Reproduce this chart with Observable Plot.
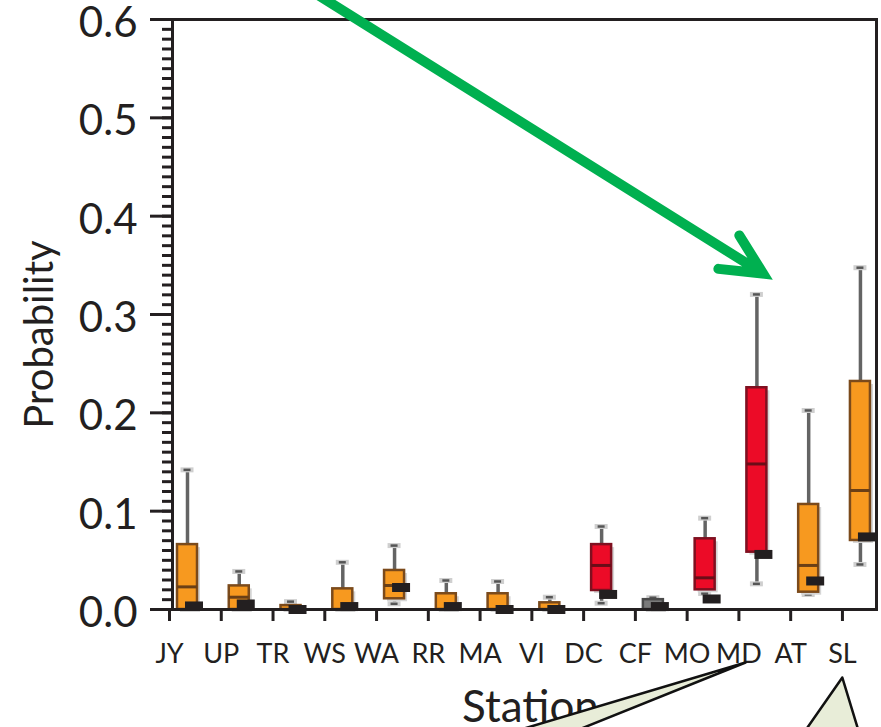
<!DOCTYPE html>
<html>
<head>
<meta charset="utf-8">
<script src="https://cdn.jsdelivr.net/npm/d3@7"></script>
<script src="https://cdn.jsdelivr.net/npm/@observablehq/plot@0.6"></script>
<style>
  html, body { margin: 0; padding: 0; background: #fff; }
  #chart svg { display: block; }
</style>
</head>
<body>
<div id="chart"></div>
<script>
// ---------- data ----------
const stations   = ["JY","UP","TR","WS","WA","RR","MA","VI","DC","CF","MO","MD","AT","SL"];
const boxKind    = ["o","o","o","o","o","o","o","o","r","g","r","r","o","o"]; // o = orange, r = red, g = grey
const whiskerLow = [0,     0,      0,     0,     0.0058, 0,      0,      0,      0.0064, 0,     0.0163, 0.0261, 0.0153, 0.0458];
const q1         = [0,     0,      0,     0,     0.0109, 0,      0,      0,      0.0193, 0,     0.0200, 0.0583, 0.0176, 0.0702];
const median     = [0.023, 0.0125, 0,     0,     0.0244, 0,      0,      0,      0.0448, 0,     0.0322, 0.1480, 0.0448, 0.1210];
const q3         = [0.066, 0.024,  0.004, 0.021, 0.0397, 0.016,  0.016,  0.0068, 0.0660, 0.010, 0.0719, 0.2255, 0.1068, 0.2319];
const whiskerHigh= [0.142, 0.0387, 0.008, 0.048, 0.065,  0.0295, 0.0285, 0.0125, 0.0844, 0.012, 0.0929, 0.3204, 0.2024, 0.3476];
const observed   = [0.0036,0.0056, 0,     0.003, 0.0224, 0.003,  0,      0,      0.0153, 0.003, 0.0107, 0.056,  0.029,  0.0738];

const yMajorTicks = [0, 0.1, 0.2, 0.3, 0.4, 0.5, 0.6];
const yMinorTicks = d3.range(0, 61).map(k => k / 100);
const xTickIndex  = stations.map((_, i) => i);
const xTitle = "Station";
const yTitle = "Probability";

// annotation geometry (data coordinates)
const arrowLine = [{x1: 2.82, y1: 0.6246, x2: 11.41, y2: 0.3416}];
const calloutX  = [11.07, 6.01, 7.32, 12.94, 12.09, 13.31];
const calloutY  = [-0.0539, -0.1333, -0.1333, -0.0692, -0.1333, -0.1333];
const calloutId = ["MD", "MD", "MD", "SL", "SL", "SL"];

// ---------- layout ----------
const W = 881, H = 727, mL = 172, mR = 5, mT = 19, mB = 118;
const xMax = 13.6;
const px = xMax / (W - mL - mR); // data units per pixel along x

const fillOf   = {o: "#F7991F", r: "#EC0B27", g: "#7a7a7a"};
const strokeOf = {o: "#7B4A1B", r: "#7f1020", g: "#4a4a4a"};
const medOf    = {o: "#6a3f16", r: "#6a0d18", g: "#444"};

const rows = stations.map((s, i) => ({
  s, i, kind: boxKind[i],
  lo: whiskerLow[i], q1: q1[i], med: median[i], q3: q3[i], hi: whiskerHigh[i], obs: observed[i],
  bx1: i + 5 * px, bx2: i + 25 * px, cx: i + 15 * px,
  mx1: i + 13 * px, mx2: i + 31 * px
}));
const callouts = calloutX.map((x, k) => ({x, y: calloutY[k], id: calloutId[k]}));

const ink = "#231f20";

const chart = Plot.plot({
  width: W, height: H,
  marginLeft: mL, marginRight: mR, marginTop: mT, marginBottom: mB,
  style: {fontFamily: "Lato, 'Open Sans', sans-serif", color: ink, background: "#fff", overflow: "visible"},
  x: {type: "linear", domain: [0, xMax], axis: null},
  y: {domain: [0, 0.6], axis: null},
  marks: [
    // axes
    Plot.axisY({ticks: yMinorTicks, tickSize: 10, tickFormat: () => "", strokeWidth: 3, stroke: ink, label: null}),
    Plot.axisY({ticks: yMajorTicks, tickSize: 22, tickFormat: () => "", strokeWidth: 3, stroke: ink, label: null}),
    Plot.axisY({ticks: yMajorTicks, tickSize: 0, tickPadding: 35, tickFormat: d3.format(".1f"),
                fill: ink, fontSize: 42, dy: 4, label: null}),
    Plot.axisX({ticks: xTickIndex, tickSize: 12, tickPadding: 22, tickFormat: i => stations[i],
                strokeWidth: 3, stroke: ink, fill: ink, fontSize: 27, dx: -3, label: null}),
    // whiskers
    Plot.ruleX(rows, {x: "cx", y1: "q3", y2: "hi", stroke: "#646464", strokeWidth: 3.5}),
    Plot.ruleX(rows, {x: "cx", y1: "lo", y2: "q1", stroke: "#646464", strokeWidth: 3.5}),
    Plot.ruleY(rows, {y: "hi", x1: d => d.cx - 6.5 * px, x2: d => d.cx + 6.5 * px, stroke: "#cfcfcf", strokeWidth: 5}),
    Plot.ruleY(rows, {y: "hi", x1: d => d.cx - 3.5 * px, x2: d => d.cx + 3.5 * px, stroke: "#555", strokeWidth: 2.5}),
    Plot.ruleY(rows.filter(d => d.lo < d.q1), {y: "lo", x1: d => d.cx - 6.5 * px, x2: d => d.cx + 6.5 * px, stroke: "#cfcfcf", strokeWidth: 5}),
    Plot.ruleY(rows.filter(d => d.lo < d.q1), {y: "lo", x1: d => d.cx - 3.5 * px, x2: d => d.cx + 3.5 * px, stroke: "#555", strokeWidth: 2.5}),
    // box shadow + boxes
    Plot.rect(rows, {x1: "bx1", x2: "bx2", y1: "q1", y2: "q3", fill: "#d6d6d6", dx: 3, dy: 3}),
    Plot.rect(rows, {x1: "bx1", x2: "bx2", y1: "q1", y2: "q3",
                     fill: d => fillOf[d.kind], stroke: d => strokeOf[d.kind], strokeWidth: 2.5}),
    Plot.ruleY(rows, {y: "med", x1: "bx1", x2: "bx2", stroke: d => medOf[d.kind], strokeWidth: 3}),
    // observed markers
    Plot.ruleY(rows, {y: "obs", x1: "mx1", x2: "mx2", stroke: ink, strokeWidth: 9}),
    // frame
    Plot.frame({stroke: ink, strokeWidth: 3}),
    // titles
    Plot.text([yTitle], {text: d => d, frameAnchor: "left", textAnchor: "middle", rotate: -90, dx: -132, dy: 20, fontSize: 40, fill: ink}),
    Plot.text([xTitle], {text: d => d, frameAnchor: "bottom", textAnchor: "middle", dx: 6, dy: 98, lineAnchor: "middle", fontSize: 44, fill: ink}),
    // callout wedges
    Plot.line(callouts, {x: "x", y: "y", z: "id", fill: "#E8EDD8", stroke: "#111", strokeWidth: 2.5, curve: "linear-closed"}),
    // green arrow
    Plot.arrow(arrowLine, {x1: "x1", y1: "y1", x2: "x2", y2: "y2", stroke: "#00B050", strokeWidth: 10,
                           headLength: 6.75, headAngle: 52, strokeLinejoin: "miter", strokeMiterlimit: 10})
  ]
});

document.getElementById("chart").appendChild(chart);
</script>
</body>
</html>
